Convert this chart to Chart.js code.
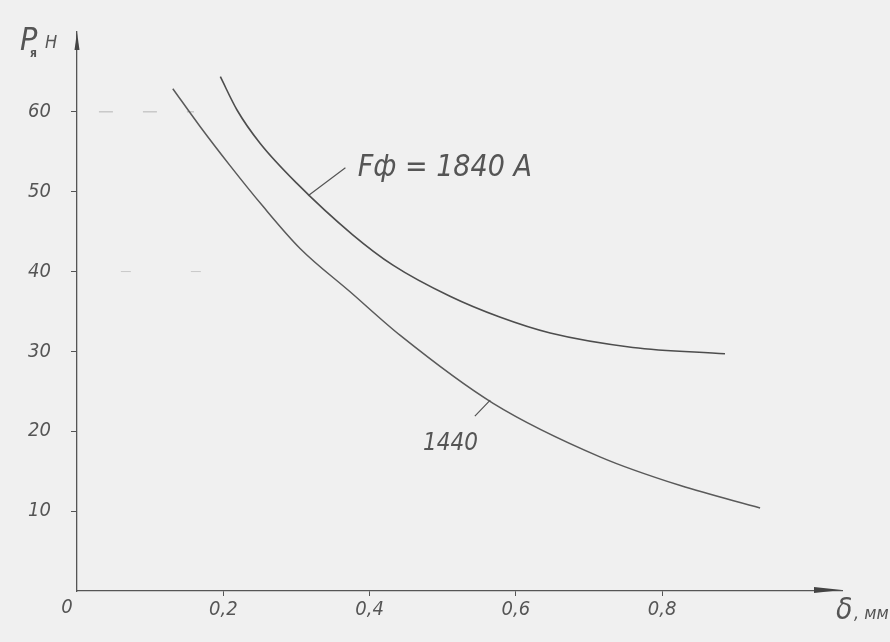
<!DOCTYPE html>
<html>
<head>
<meta charset="utf-8">
<script src="https://cdn.jsdelivr.net/npm/chart.js@4/dist/chart.umd.min.js"></script>
<style>
  html, body { margin: 0; padding: 0; background: #f0f0f0; }
  canvas { display: block; }
</style>
</head>
<body>
<canvas id="chart" width="890" height="642"></canvas>
<script>
// Зазор δ, мм и сила P, Н для двух значений МДС
const gap1840 = [0.196, 0.219, 0.250, 0.300, 0.377, 0.432, 0.510, 0.578, 0.647, 0.760, 0.886];
const force1840 = [64.4, 60.2, 56.1, 51.1, 44.6, 40.8, 36.9, 34.3, 32.3, 30.5, 29.7];

const gap1440 = [0.131, 0.168, 0.209, 0.254, 0.305, 0.373, 0.442, 0.569, 0.715, 0.825, 0.934];
const force1440 = [62.9, 58.2, 53.3, 48.2, 42.9, 37.5, 32.0, 23.5, 16.8, 13.2, 10.4];

// тики осей
const xTicks = [0.2, 0.4, 0.6, 0.8];
const yTicks = [10, 20, 30, 40, 50, 60];

// вспомогательные штрихи на 60 и 40
const guide60 = [0.03, 0.16];
const guide40 = [0.06, 0.19];

const FONT = "'DejaVu Sans Condensed', 'DejaVu Sans', sans-serif";
const INK = "#555";

const toPoints = (xs, ys) => xs.map((x, i) => ({ x: x, y: ys[i] }));

const decor = {
    id: "decor",
    beforeDraw(chart) {
        const c = chart.ctx;
        c.save();
        c.fillStyle = "#f0f0f0";
        c.fillRect(0, 0, chart.width, chart.height);
        c.restore();
    },
    afterDraw(chart) {
        const c = chart.ctx;
        const xs = chart.scales.x, ys = chart.scales.y;
        const a = chart.chartArea;
        c.save();
        c.fillStyle = "#444";
        c.strokeStyle = INK;

        // стрелка оси Y
        c.beginPath();
        c.moveTo(a.left, a.top);
        c.lineTo(a.left - 2.5, a.top + 18);
        c.lineTo(a.left + 2.5, a.top + 18);
        c.closePath();
        c.fill();

        // стрелка оси X
        c.beginPath();
        c.moveTo(a.right, a.bottom - 1);
        c.lineTo(a.right - 28, a.bottom - 4);
        c.lineTo(a.right - 28, a.bottom + 2);
        c.closePath();
        c.fill();

        // подписи
        c.fillStyle = INK;
        c.textBaseline = "alphabetic";
        c.font = "italic 20px " + FONT;
        c.textAlign = "center";
        c.fillText("0", a.left - 10, a.bottom + 22);

        c.textAlign = "left";
        c.font = "italic 30px " + FONT;
        c.fillText("δ", a.right - 6, a.bottom + 28);
        c.font = "italic 18px " + FONT;
        c.fillText(", мм", a.right + 12, a.bottom + 28);

        c.font = "italic 32px " + FONT;
        c.fillText("P", 20, 50);
        c.font = "bold 12px " + FONT;
        c.fillText("я", 30, 57);
        c.font = "italic 18px " + FONT;
        c.fillText("Н", 45, 48);

        // выноски
        c.lineWidth = 1.2;
        c.beginPath();
        c.moveTo(xs.getPixelForValue(0.316), ys.getPixelForValue(49.5));
        c.lineTo(xs.getPixelForValue(0.367), ys.getPixelForValue(53.0));
        c.moveTo(xs.getPixelForValue(0.544), ys.getPixelForValue(21.9));
        c.lineTo(xs.getPixelForValue(0.565), ys.getPixelForValue(23.9));
        c.stroke();

        c.font = "italic 30px " + FONT;
        c.fillText("Fф = 1840 А", xs.getPixelForValue(0.384), ys.getPixelForValue(52.0));
        c.font = "italic 24px " + FONT;
        c.fillText("1440", xs.getPixelForValue(0.473), ys.getPixelForValue(17.6));
        c.restore();
    }
};

new Chart(document.getElementById("chart"), {
    type: "line",
    data: {
        datasets: [
            {
                label: "1840",
                data: toPoints(gap1840, force1840),
                borderColor: "#4d4d4d",
                borderWidth: 1.6,
                cubicInterpolationMode: "monotone",
                pointRadius: 0,
                fill: false
            },
            {
                label: "1440",
                data: toPoints(gap1440, force1440),
                borderColor: "#5a5a5a",
                borderWidth: 1.5,
                cubicInterpolationMode: "monotone",
                pointRadius: 0,
                fill: false
            },
            {
                label: "g60",
                data: toPoints(guide60, [60, 60]),
                borderColor: "#b5b5b5",
                borderWidth: 1,
                borderDash: [14, 30],
                pointRadius: 0
            },
            {
                label: "g40",
                data: toPoints(guide40, [40, 40]),
                borderColor: "#c8c8c8",
                borderWidth: 1,
                borderDash: [10, 60],
                pointRadius: 0
            }
        ]
    },
    options: {
        responsive: false,
        animation: false,
        layout: { padding: { top: 32, right: 48, left: 0, bottom: 0 } },
        plugins: {
            legend: { display: false },
            tooltip: { enabled: false }
        },
        scales: {
            x: {
                type: "linear",
                min: 0,
                max: 1.046,
                afterBuildTicks: s => { s.ticks = xTicks.map(v => ({ value: v })); },
                afterFit: s => { s.height = 51; },
                border: { color: INK, width: 1.3 },
                grid: { drawOnChartArea: false, color: INK, tickLength: 5 },
                ticks: {
                    color: INK,
                    padding: 2,
                    font: { family: FONT, size: 20, style: "italic" },
                    callback: v => String(v).replace(".", ",")
                }
            },
            y: {
                min: 0,
                max: 70,
                afterBuildTicks: s => { s.ticks = yTicks.map(v => ({ value: v })); },
                afterFit: s => { s.width = 77; },
                border: { color: INK, width: 1.3 },
                grid: { drawOnChartArea: false, color: INK, tickLength: 6 },
                ticks: {
                    color: INK,
                    padding: 20,
                    font: { family: FONT, size: 20, style: "italic" }
                }
            }
        }
    },
    plugins: [decor]
});
</script>
</body>
</html>
